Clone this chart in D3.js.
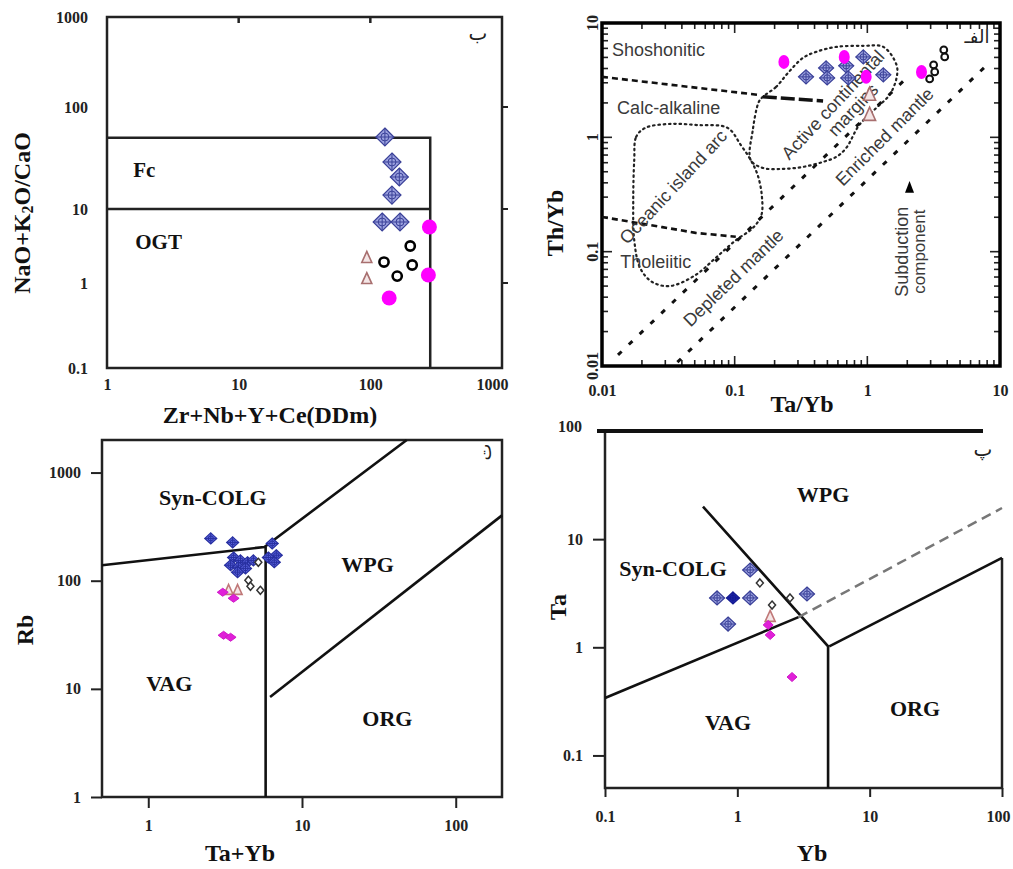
<!DOCTYPE html>
<html><head><meta charset="utf-8">
<script src="https://cdn.jsdelivr.net/npm/d3@7"></script>
<style>
html,body{margin:0;padding:0;background:#fff;}
svg{display:block;}
</style></head><body>
<svg id="chart" width="1013" height="869"></svg>
<script>
// ================= DATA =================
// Panel "ب" (top-left): Zr+Nb+Y+Ce vs (Na2O+K2O)/CaO
const p1XTicks = [1, 10, 100, 1000];
const p1YTicks = [0.1, 1, 10, 100, 1000];
const p1Blue = [[129,50.8],[146,28.9],[166,20.6],[146,13.7],[123,6.67],[168,6.67]];
const p1Magenta = [[281,5.71],[276,1.28],[139,0.667]];
const p1Circles = [[201,3.16],[127,1.92],[208,1.75],[160,1.24]];
const p1Triangles = [[94,2.18],[94,1.13]];
const p1Boundaries = [[[1,50],[285,50],[285,0.1]], [[1,10],[285,10]]];
const p1Fields = [{t:"Fc", x:1.58, y:24}, {t:"OGT", x:1.64, y:3.58}];

// Panel "الف" (top-right): Ta/Yb vs Th/Yb
const p2Ticks = [0.01, 0.1, 1, 10];
const p2ShoCa = [[0.01,3.38],[0.152,2.35]];
const p2ShoCaHeavy = [[0.163,2.26],[0.464,2.08]];
const p2CaTh = [[0.01,0.201],[0.0285,0.164],[0.0507,0.146],[0.102,0.135]];
const p2MantleUpper = [[0.0132,0.0125],[1.91,3.18]];
const p2MantleLower = [[0.037,0.0108],[7.69,4.13]];
const p2OceanicArc = [[0.0175,0.634],[0.0181,1.01],[0.0212,1.21],[0.0327,1.31],[0.0525,1.28],[0.0885,1.21],[0.111,0.86],[0.132,0.634],[0.149,0.469],[0.160,0.313],[0.159,0.209],[0.137,0.161],[0.102,0.126],[0.0718,0.0881],[0.0507,0.0625],[0.0327,0.0501],[0.0239,0.0543],[0.0194,0.0719],[0.0175,0.126],[0.0172,0.283]];
const p2ActiveMargin = [[0.163,2.26],[0.205,2.76],[0.256,3.73],[0.327,4.95],[0.411,5.59],[0.582,6.18],[0.933,6.31],[1.32,6.18],[1.66,4.30],[1.66,3.31],[1.47,2.35],[1.17,1.81],[0.869,1.28],[0.693,0.807],[0.582,0.674],[0.464,0.610],[0.327,0.551],[0.231,0.530],[0.163,0.540],[0.132,0.634],[0.137,1.16],[0.152,2.04]];
const p2Blue = [[0.345,3.38],[0.489,4.05],[0.498,3.31],[0.693,4.22],[0.718,3.31],[0.933,5.05],[1.32,3.52]];
const p2Magenta = [[0.235,4.57],[0.670,5.05],[0.98,3.38],[2.56,3.73]];
const p2Triangles = [[1.04,2.35],[1.04,1.57]];
const p2Circles = [[3.16,4.30],[3.22,3.73],[3.77,5.82],[3.83,5.05],[2.95,3.24]];
const p2Labels = [
  {t:"Shoshonitic", x:0.0119, y:5.15, a:0, anchor:"start"},
  {t:"Calc-alkaline", x:0.0130, y:1.60, a:0, anchor:"start"},
  {t:"Tholeiitic", x:0.0137, y:0.0719, a:0, anchor:"start"},
  {t:"Oceanic island arc", x:0.0345, y:0.368, a:-47, anchor:"middle"},
  {t:"Enriched mantle", x:1.35, y:1.01, a:-45, anchor:"middle"},
  {t:"Depleted mantle", x:0.098, y:0.0589, a:-44, anchor:"middle"}
];
const p2ACMLabel = {t1:"Active continental", t2:"margins", x:0.552, y:1.92, a:-47};
const p2Subduction = {t1:"Subduction", t2:"component", x1:1.81, x2:2.48, y:0.10, ax:2.08, tip:0.416, base:0.327};

// Panel "ت" (bottom-left): Ta+Yb vs Rb
const p3XTicks = [1, 10, 100];
const p3YTicks = [1, 10, 100, 1000];
const p3Boundaries = [[[0.5,139],[5.7,205],[48,2000]], [[5.8,205],[5.8,1]], [[6.2,8.4],[200,402]]];
const p3Fields = [{t:"Syn-COLG", x:2.63, y:589},{t:"WPG", x:26.7, y:142},{t:"VAG", x:1.37, y:11.3},{t:"ORG", x:35.9, y:5.36}];
const p3Blue = [[2.55,246],[3.54,226],[6.4,221],[6.8,172],[3.59,164],[3.98,154],[4.42,148],[3.43,139],[3.86,133],[4.29,130],[3.81,120],[4.83,154],[6.04,164],[6.6,148]];
const p3Open = [[5.2,148],[4.48,101],[4.62,88.8],[5.36,81.5]];
const p3Triangles = [[3.33,81.5],[3.81,81.5]];
const p3Magenta = [[3.05,78.2],[3.59,68.8],[3.09,31.3],[3.43,30.0]];

// Panel "پ" (bottom-right): Yb vs Ta
const p4XTicks = [0.1, 1, 10, 100];
const p4YTicks = [0.1, 1, 10, 100];
const p4Solid = [[[0.1,0.34],[2.9,1.9]], [[0.55,20],[4.85,1.02],[4.85,0.05]], [[4.95,1.02],[100,6.7]]];
const p4Dashed = [[[2.9,1.9],[100,19.4]]];
const p4Fields = [{t:"WPG", x:4.45, y:25.6},{t:"Syn-COLG", x:0.327, y:5.3},{t:"VAG", x:0.851, y:0.20},{t:"ORG", x:22.0, y:0.274}];
const p4Blue = [[1.25,5.19],[0.703,2.86],[1.25,2.86],[3.36,3.11],[0.851,1.64]];
const p4BlueSolid = [[0.927,2.86]];
const p4Open = [[1.48,3.94],[1.83,2.46],[2.50,2.86]];
const p4Triangles = [[1.77,1.91]];
const p4Magenta = [[1.71,1.61],[1.77,1.30],[2.59,0.531]];

// ================= DRAW =================
const svg = d3.select("#chart");
svg.append("rect").attr("width",1013).attr("height",869).attr("fill","#fff");
const SERIF = "'Liberation Serif','Times New Roman',serif";
const SANS = "'Liberation Sans',Arial,sans-serif";
const TICK = 16;
const fmt = v => String(v);

function blueDiamond(g, w, h, fill, stroke) {
  g.append("path").attr("d",`M0,${-h/2}L${w/2},0L0,${h/2}L${-w/2},0Z`)
    .attr("fill",fill).attr("stroke",stroke).attr("stroke-width",1.2);
  g.append("path").attr("d",`M0,${-h/2}V${h/2}M${-w/2},0H${w/2}`)
    .attr("stroke",stroke).attr("stroke-width",1);
  g.append("ellipse").attr("rx",w*0.22).attr("ry",h*0.22)
    .attr("fill","none").attr("stroke",stroke).attr("stroke-width",1);
}
function drawBlue(layer, data, x, y, w, h, fill, stroke) {
  data.forEach(d => {
    const g = layer.append("g").attr("transform",`translate(${x(d[0])},${y(d[1])})`);
    blueDiamond(g, w, h, fill, stroke);
  });
}
function drawTriangles(layer, data, x, y, s, stroke) {
  layer.selectAll(null).data(data).enter().append("path")
    .attr("transform", d => `translate(${x(d[0])},${y(d[1])})`)
    .attr("d", `M0,${-s*0.65}L${s*0.5},${s*0.45}L${-s*0.5},${s*0.45}Z`)
    .attr("fill","#f4e6e6").attr("stroke",stroke).attr("stroke-width",1.6);
}
function drawSmallDiamonds(layer, data, x, y, w, h, fill, stroke, sw) {
  layer.selectAll(null).data(data).enter().append("path")
    .attr("transform", d => `translate(${x(d[0])},${y(d[1])})`)
    .attr("d", `M0,${-h/2}L${w/2},0L0,${h/2}L${-w/2},0Z`)
    .attr("fill",fill).attr("stroke",stroke).attr("stroke-width",sw);
}
function fieldLabels(layer, fields, x, y, size, anchor) {
  layer.selectAll(null).data(fields).enter().append("text")
    .attr("x", d => x(d.x)).attr("y", d => y(d.y))
    .attr("text-anchor",anchor || "middle").attr("dominant-baseline","central")
    .attr("font-family",SERIF).attr("font-weight","bold").attr("font-size",size)
    .attr("fill","#111").text(d => d.t);
}
function axisTitle(layer, txt, cx, cy, rotate) {
  const t = layer.append("text").attr("transform",`translate(${cx},${cy})${rotate?" rotate(-90)":""}`)
    .attr("text-anchor","middle").attr("dominant-baseline","central")
    .attr("font-family",SERIF).attr("font-weight","bold").attr("font-size",24).attr("fill","#111");
  if (typeof txt === "string") t.text(txt); else txt(t);
  return t;
}
function styleTicks(g, size) {
  g.select(".domain").remove();
  g.selectAll("text").attr("font-family",SERIF).attr("font-weight","bold")
    .attr("font-size",size).attr("fill","#222");
  g.selectAll("line").attr("stroke","#222").attr("stroke-width",2);
}
const lineGen = (x,y) => d3.line().x(d => x(d[0])).y(d => y(d[1]));

// ---------- Panel 1 ----------
{
  const x = d3.scaleLog().domain([1,1000]).range([107,502]);
  const y = d3.scaleLog().domain([0.1,1,10,100,1000]).range([368,283,209,107,17]);
  const g = svg.append("g");
  g.append("rect").attr("x",x(1)).attr("y",y(1000)).attr("width",x(1000)-x(1)).attr("height",y(0.1)-y(1000))
    .attr("fill","none").attr("stroke","#222").attr("stroke-width",2.5);
  g.selectAll(null).data([10,100]).enter().append("line")
    .attr("x1",d=>x(d)).attr("x2",d=>x(d)).attr("y1",y(1000)).attr("y2",y(1000)+6)
    .attr("stroke","#222").attr("stroke-width",2.5);
  g.selectAll(null).data([1,10,100]).enter().append("line")
    .attr("x1",x(1000)).attr("x2",x(1000)+6).attr("y1",d=>y(d)).attr("y2",d=>y(d))
    .attr("stroke","#222").attr("stroke-width",2);
  g.append("g").attr("transform",`translate(${x(1)-16},0)`)
    .call(d3.axisLeft(y).tickValues(p1YTicks).tickFormat(fmt).tickSize(0))
    .call(a => styleTicks(a, TICK));
  g.append("g").attr("transform",`translate(0,${y(0.1)+8})`)
    .call(d3.axisBottom(x).tickValues(p1XTicks).tickFormat(fmt).tickSize(0))
    .call(a => styleTicks(a, TICK))
    .call(a => a.selectAll("text").filter(d => d === 1000).attr("dx",-10));
  g.selectAll(null).data(p1Boundaries).enter().append("path")
    .attr("d", lineGen(x,y)).attr("fill","none").attr("stroke","#222").attr("stroke-width",2.5);
  fieldLabels(g, p1Fields, x, y, 21, "start");
  drawTriangles(g, p1Triangles, x, y, 10, "#a86f6f");
  g.selectAll(null).data(p1Circles).enter().append("circle")
    .attr("cx",d=>x(d[0])).attr("cy",d=>y(d[1])).attr("r",4.6)
    .attr("fill","#fff").attr("stroke","#000").attr("stroke-width",2.6);
  drawBlue(g, p1Blue, x, y, 18, 18, "#9aa0de", "#3a4098");
  g.selectAll(null).data(p1Magenta).enter().append("circle")
    .attr("cx",d=>x(d[0])).attr("cy",d=>y(d[1])).attr("r",7.5).attr("fill","#ff00ff");
  axisTitle(g, "Zr+Nb+Y+Ce(DDm)", 270, 415, false);
  axisTitle(g, t => {
    t.append("tspan").text("NaO+K");
    t.append("tspan").text("2").attr("font-size",16).attr("dy",5);
    t.append("tspan").text("O/CaO").attr("dy",-5);
  }, 22, 213, true);
  g.append("text").attr("x",478).attr("y",40).attr("text-anchor","middle")
    .attr("font-family","'DejaVu Sans',sans-serif").attr("font-size",20).attr("fill","#222").text("ب");
}

// ---------- Panel 2 ----------
{
  const x = d3.scaleLog().domain([0.01,10]).range([602,1000]);
  const y = d3.scaleLog().domain([0.01,10]).range([366,23]);
  const g = svg.append("g");
  const [x0,x1] = x.range(), [y0,y1] = y.range();
  const isMajor = v => Math.abs(Math.log10(v) - Math.round(Math.log10(v))) < 1e-6;
  x.ticks().forEach(v => {
    const L = isMajor(v) ? 10 : 6;
    g.append("line").attr("x1",x(v)).attr("x2",x(v)).attr("y1",y0).attr("y2",y0-L).attr("stroke","#222").attr("stroke-width",1.6);
    g.append("line").attr("x1",x(v)).attr("x2",x(v)).attr("y1",y1).attr("y2",y1+L).attr("stroke","#222").attr("stroke-width",1.6);
  });
  y.ticks().forEach(v => {
    const L = isMajor(v) ? 10 : 6;
    g.append("line").attr("y1",y(v)).attr("y2",y(v)).attr("x1",x0).attr("x2",x0+L).attr("stroke","#222").attr("stroke-width",1.6);
    g.append("line").attr("y1",y(v)).attr("y2",y(v)).attr("x1",x1).attr("x2",x1-L).attr("stroke","#222").attr("stroke-width",1.6);
  });
  g.append("rect").attr("x",x0).attr("y",y1).attr("width",x1-x0).attr("height",y0-y1)
    .attr("fill","none").attr("stroke","#000").attr("stroke-width",3.5);
  g.append("g").attr("transform",`translate(0,${y0+16})`)
    .call(d3.axisBottom(x).tickValues(p2Ticks).tickFormat(fmt).tickSize(0))
    .call(a => styleTicks(a, TICK));
  g.selectAll(null).data(p2Ticks).enter().append("text")
    .attr("transform", d => `translate(${x0-10},${y(d)}) rotate(-90)`)
    .attr("text-anchor","middle").attr("dominant-baseline","central")
    .attr("font-family",SERIF).attr("font-weight","bold").attr("font-size",TICK).attr("fill","#222")
    .text(fmt);
  const L = lineGen(x,y);
  const closed = d3.line().x(d=>x(d[0])).y(d=>y(d[1])).curve(d3.curveCatmullRomClosed.alpha(0.5));
  [p2OceanicArc, p2ActiveMargin].forEach(pts => {
    g.append("path").attr("d",closed(pts)).attr("fill","none").attr("stroke","#222")
      .attr("stroke-width",2.2).attr("stroke-dasharray","1.5,3.8").attr("stroke-linecap","round");
  });
  g.append("path").attr("d",L(p2ShoCa)).attr("fill","none").attr("stroke","#111").attr("stroke-width",2.6).attr("stroke-dasharray","6,4");
  g.append("path").attr("d",L(p2ShoCaHeavy)).attr("fill","none").attr("stroke","#111").attr("stroke-width",3.5).attr("stroke-dasharray","14,4");
  g.append("path").attr("d",L(p2CaTh)).attr("fill","none").attr("stroke","#111").attr("stroke-width",2.6).attr("stroke-dasharray","6,4");
  [p2MantleUpper, p2MantleLower].forEach(pts => {
    g.append("path").attr("d",L(pts)).attr("fill","none").attr("stroke","#111")
      .attr("stroke-width",3).attr("stroke-dasharray","5,10");
  });
  g.selectAll(null).data(p2Labels).enter().append("text")
    .attr("transform", d => `translate(${x(d.x)},${y(d.y)}) rotate(${d.a})`)
    .attr("text-anchor", d => d.anchor).attr("dominant-baseline", d => d.a ? "central" : "auto")
    .attr("font-family",SANS).attr("font-size",18).attr("fill","#3a3a3a").text(d => d.t);
  const acm = g.append("g").attr("transform",`translate(${x(p2ACMLabel.x)},${y(p2ACMLabel.y)}) rotate(${p2ACMLabel.a})`)
    .attr("font-family",SANS).attr("font-size",18).attr("fill","#3a3a3a");
  acm.append("text").attr("text-anchor","middle").attr("dominant-baseline","central").text(p2ACMLabel.t1);
  acm.append("text").attr("x",-22).attr("y",18).attr("dominant-baseline","central").text(p2ACMLabel.t2);
  const sb = p2Subduction;
  g.append("text").attr("transform",`translate(${x(sb.x1)},${y(sb.y)}) rotate(-90)`)
    .attr("text-anchor","middle").attr("dominant-baseline","central")
    .attr("font-family",SANS).attr("font-size",18).attr("fill","#3a3a3a").text(sb.t1);
  g.append("text").attr("transform",`translate(${x(sb.x2)},${y(sb.y)}) rotate(-90)`)
    .attr("text-anchor","middle").attr("dominant-baseline","central")
    .attr("font-family",SANS).attr("font-size",17).attr("fill","#3a3a3a").text(sb.t2);
  g.append("path").attr("d",`M${x(sb.ax)},${y(sb.tip)}L${x(sb.ax)+4.5},${y(sb.base)}L${x(sb.ax)-4.5},${y(sb.base)}Z`).attr("fill","#000");
  drawBlue(g, p2Blue, x, y, 15, 14, "#9aa0de", "#3a4098");
  drawTriangles(g, p2Triangles, x, y, 12, "#a86f6f");
  g.selectAll(null).data(p2Circles).enter().append("circle")
    .attr("cx",d=>x(d[0])).attr("cy",d=>y(d[1])).attr("r",3.4)
    .attr("fill","none").attr("stroke","#111").attr("stroke-width",2);
  g.selectAll(null).data(p2Magenta).enter().append("ellipse")
    .attr("cx",d=>x(d[0])).attr("cy",d=>y(d[1])).attr("rx",5.5).attr("ry",7).attr("fill","#ff00ff");
  axisTitle(g, "Ta/Yb", 802, 404, false);
  axisTitle(g, "Th/Yb", 555, 223, true);
  g.append("text").attr("x",977).attr("y",43).attr("text-anchor","middle")
    .attr("font-family","'DejaVu Sans',sans-serif").attr("font-size",18).attr("fill","#222").text("الفـ");
}

// ---------- Panel 3 ----------
{
  const x = d3.scaleLog().domain([0.5,200]).range([102,502]);
  const y = d3.scaleLog().domain([1,2000]).range([797,440]);
  const g = svg.append("g");
  g.append("rect").attr("x",x(0.5)).attr("y",y(2000)).attr("width",x(200)-x(0.5)).attr("height",y(1)-y(2000))
    .attr("fill","none").attr("stroke","#222").attr("stroke-width",2.5);
  g.append("g").attr("transform",`translate(${x(0.5)},0)`)
    .call(d3.axisLeft(y).tickValues(p3YTicks).tickFormat(fmt).tickSize(11).tickPadding(10))
    .call(a => styleTicks(a, TICK));
  g.append("g").attr("transform",`translate(0,${y(1)})`)
    .call(d3.axisBottom(x).tickValues(p3XTicks).tickFormat(fmt).tickSize(11).tickPadding(12))
    .call(a => styleTicks(a, TICK));
  g.selectAll(null).data(p3Boundaries).enter().append("path")
    .attr("d", lineGen(x,y)).attr("fill","none").attr("stroke","#111").attr("stroke-width",2.6);
  fieldLabels(g, p3Fields, x, y, 22);
  drawBlue(g, p3Blue, x, y, 12, 11, "#5a62dc", "#2830a0");
  drawSmallDiamonds(g, p3Open, x, y, 7, 8, "#fff", "#333", 1.5);
  drawTriangles(g, p3Triangles, x, y, 9, "#c07878");
  drawSmallDiamonds(g, p3Magenta, x, y, 11, 8, "#e020d8", "#d018c8", 1);
  axisTitle(g, "Ta+Yb", 240, 853, false);
  axisTitle(g, "Rb", 25, 630, true);
  g.append("text").attr("transform","translate(484,452) rotate(-90)").attr("text-anchor","middle")
    .attr("dominant-baseline","central")
    .attr("font-family","'DejaVu Sans',sans-serif").attr("font-size",18).attr("fill","#222").text("ت");
}

// ---------- Panel 4 ----------
{
  const x = d3.scaleLog().domain([0.1,100]).range([605,1002]);
  const y = d3.scaleLog().domain([0.05,100]).range([788,431]);
  const g = svg.append("g");
  g.append("path").attr("d",`M${x(0.1)},${y(100)}V${y(0.05)}H${x(100)}V${y(6.7)}`)
    .attr("fill","none").attr("stroke","#222").attr("stroke-width",2.5);
  g.append("line").attr("x1",x(0.1)-8).attr("x2",x(100)-19).attr("y1",y(100)).attr("y2",y(100))
    .attr("stroke","#111").attr("stroke-width",4);
  g.append("g").attr("transform",`translate(${x(0.1)},0)`)
    .call(d3.axisLeft(y).tickValues(p4YTicks.slice(0,3)).tickFormat(fmt).tickSize(12).tickPadding(10))
    .call(a => styleTicks(a, TICK));
  g.append("text").attr("x",582).attr("y",y(100)-5).attr("text-anchor","end").attr("dominant-baseline","central")
    .attr("font-family",SERIF).attr("font-weight","bold").attr("font-size",TICK).attr("fill","#222").text(fmt(p4YTicks[3]));
  g.append("g").attr("transform",`translate(0,${y(0.05)})`)
    .call(d3.axisBottom(x).tickValues(p4XTicks).tickFormat(fmt).tickSize(9).tickPadding(14))
    .call(a => styleTicks(a, TICK))
    .call(a => a.selectAll("text").filter(d => d === 100).attr("dx",-4));
  g.selectAll(null).data(p4Solid).enter().append("path")
    .attr("d", lineGen(x,y)).attr("fill","none").attr("stroke","#111").attr("stroke-width",2.6);
  g.selectAll(null).data(p4Dashed).enter().append("path")
    .attr("d", lineGen(x,y)).attr("fill","none").attr("stroke","#777").attr("stroke-width",2.5).attr("stroke-dasharray","10,6");
  fieldLabels(g, p4Fields, x, y, 22);
  drawBlue(g, p4Blue, x, y, 15, 14, "#9aa0de", "#3a4098");
  drawBlue(g, p4BlueSolid, x, y, 13, 12, "#1f26b0", "#141a90");
  drawSmallDiamonds(g, p4Open, x, y, 7, 8, "#fff", "#333", 1.5);
  drawTriangles(g, p4Triangles, x, y, 10, "#c07878");
  drawSmallDiamonds(g, p4Magenta, x, y, 10, 9, "#e020d8", "#d018c8", 1);
  axisTitle(g, "Yb", 812, 853, false);
  axisTitle(g, "Ta", 558, 607, true);
  g.append("text").attr("x",983).attr("y",456).attr("text-anchor","middle")
    .attr("font-family","'DejaVu Sans',sans-serif").attr("font-size",20).attr("fill","#222").text("پ");
}
</script>
</body></html>
